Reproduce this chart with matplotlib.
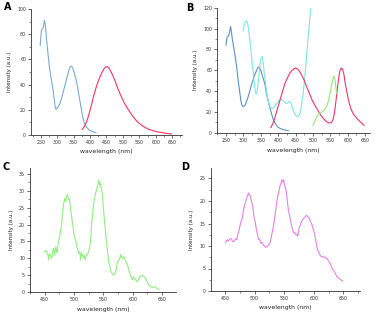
import matplotlib
matplotlib.use("Agg")
import matplotlib.pyplot as plt
from matplotlib.ticker import MultipleLocator

# panel A: excitation (blue) and emission (red)
a_ex_wl = [248, 250, 252, 255, 257, 259, 261, 263, 266, 270, 276, 282, 287, 291, 294, 297,
           302, 307, 312, 317, 322, 327, 332, 336, 340, 344, 347, 351, 355, 359, 362, 367,
           372, 377, 382, 390, 397, 405, 412, 418]
a_ex_int = [71, 78, 83.5, 84, 85, 88, 91, 88, 80, 69, 54, 44, 36, 28, 21.5, 20.5,
            22, 24.5, 28, 33, 38, 43, 48, 52, 54.5, 54.5, 53, 50, 46, 42, 38, 30,
            22.5, 15, 9.5, 6, 4, 3, 2.3, 1.8]
a_em_wl = [376, 382, 388, 395, 403, 410, 418, 426, 434, 441, 447, 452, 456, 461, 468, 476,
           485, 495, 505, 518, 531, 546, 561, 576, 592, 607, 622, 635, 648]
a_em_int = [4.5, 6.5, 9.5, 15, 22.5, 30, 37.5, 43.5, 48.5, 52, 54, 54.3, 53.5, 51.5, 48, 43,
            36.5, 30.5, 25, 19.5, 14.5, 10, 7, 4.8, 3.4, 2.4, 1.8, 1.2, 0.8]

# panel B
b_blue_wl = [250, 252, 254, 257, 259, 261, 263, 265, 268, 272, 276, 281, 285, 289, 293, 296,
             299, 304, 309, 314, 319, 324, 329, 333, 338, 342, 346, 350, 354, 358, 362, 366,
             371, 376, 381, 386, 393, 400, 410, 420, 429]
b_blue_int = [84, 90, 92, 93, 95, 98, 102, 98, 90, 82, 74, 62, 50, 40, 30, 26,
              25, 26, 30, 35, 41, 47, 52, 56, 60, 63, 63, 60, 55, 51, 46, 38,
              31, 24, 18, 12.5, 8, 5, 3.5, 2.5, 2]
b_cyan_wl = [299, 302, 305, 309, 312, 315, 318, 322, 326, 330, 333, 336, 339, 342, 345, 348,
             351, 354, 357, 360, 364, 368, 372, 376, 380, 385, 390, 396, 402, 408, 413, 418,
             423, 428, 432, 436, 440, 445, 450, 455, 459, 463, 467, 472, 477, 482, 487, 491, 494]
b_cyan_int = [98, 103, 106, 107.5, 105, 99, 90, 78, 64, 52, 43, 37, 39, 46, 56, 66,
              72, 73, 67, 57, 46, 36, 29, 25, 23.5, 23.5, 25.5, 28, 31, 32, 31.5, 29.5,
              28, 28.5, 30, 29, 25, 20, 16.5, 15.4, 16, 19, 26, 38, 55, 75, 95, 110, 120]
b_red_wl = [379, 385, 390, 397, 405, 412, 419, 427, 434, 440, 446, 451, 456, 462, 468, 475,
            482, 490, 498, 506, 514, 522, 530, 538, 545, 550, 555, 559, 563, 567, 571, 575,
            578, 581, 585, 589, 593, 598, 603, 609, 616, 623, 631, 639, 647]
b_red_int = [5, 9, 14, 22, 31, 39, 47, 53, 57.5, 60, 61.5, 62, 61, 58.5, 55, 50,
             44, 37.5, 31, 26, 21.5, 17, 13.5, 10.8, 9.5, 9.3, 10.5, 14, 22, 33, 45, 55,
             60, 62, 61, 56, 47, 38, 30, 23, 18, 15, 12, 9.5, 7]
b_green_wl = [500, 505, 510, 515, 520, 525, 530, 535, 540, 545, 549, 553, 557, 560, 562, 564, 566, 568]
b_green_int = [7, 11, 14.5, 17, 19, 20, 21, 23, 26, 31, 38, 45, 51, 54, 53, 49, 43, 38]

# panel C
c_wl = [449, 451, 453, 455, 457, 458, 460, 462, 464, 465, 467, 469, 471, 473, 476, 479,
        480, 482, 484, 486, 487, 489, 490, 492, 494, 497, 500, 503, 505, 508, 510, 511,
        513, 514, 516, 517, 519, 521, 522, 525, 528, 530, 533, 536, 539, 541, 542, 544,
        545, 547, 548, 550, 553, 556, 559, 563, 567, 571, 574, 577, 580, 581, 583, 585,
        587, 591, 595, 599, 601, 603, 606, 608, 612, 616, 620, 624, 628, 631, 634, 638,
        642, 645]
c_int = [11.8, 12.0, 12.3, 11.5, 9.5, 11.2, 11.0, 10.0, 12.5, 13.0, 11.0, 13.4, 11.5, 14.4, 16.9, 20.4,
         22.8, 25.8, 27.8, 26.8, 28.2, 29.0, 27.5, 27.8, 24.8, 20.9, 16.9, 14.9, 13.4, 11.5, 12.0, 9.5,
         11.5, 11.0, 10.2, 11.0, 9.5, 11.0, 11.0, 12.0, 14.9, 20.4, 25.8, 28.8, 30.8, 32.0, 33.2, 31.7,
         32.2, 30.3, 29.3, 24.8, 18.9, 13.4, 9.0, 6.0, 5.0, 6.0, 9.0, 9.5, 11.2, 10.2, 10.0, 10.5,
         9.5, 8.0, 5.5, 3.6, 4.5, 4.1, 3.3, 3.1, 4.5, 5.0, 4.5, 3.1, 1.9, 1.6, 1.3, 1.6,
         0.9, 0.8]

# panel D
d_wl = [451, 454, 456, 458, 461, 463, 466, 468, 470, 472, 474, 477, 479, 481, 483, 485,
        488, 490, 491, 493, 495, 497, 499, 501, 503, 505, 507, 509, 511, 513, 515, 517,
        519, 521, 523, 526, 529, 531, 533, 535, 537, 539, 541, 543, 545, 546, 548, 549,
        551, 553, 555, 557, 560, 563, 566, 568, 570, 572, 573, 575, 577, 579, 581, 584,
        586, 588, 590, 592, 594, 596, 598, 601, 603, 605, 607, 609, 611, 613, 615, 618,
        620, 622, 624, 626, 628, 630, 632, 635, 637, 639, 641, 643, 645, 647, 649]
d_int = [10.8, 11.4, 11.1, 11.6, 11.6, 11.0, 11.1, 11.6, 11.4, 12.6, 13.6, 15.4, 16.0, 17.7, 19.0, 19.9,
         21.2, 21.8, 21.4, 21.0, 19.8, 18.8, 16.5, 15.4, 13.8, 12.5, 11.4, 11.4, 10.6, 10.8, 10.2, 10.0,
         9.7, 9.9, 10.1, 10.6, 12.5, 13.8, 15.4, 17.2, 19.2, 21.0, 22.1, 23.4, 24.0, 24.7, 24.2, 24.7,
         23.4, 22.5, 20.5, 18.0, 16.2, 14.2, 12.9, 13.0, 12.5, 12.6, 12.2, 14.0, 14.5, 15.4, 15.8, 16.3,
         16.6, 16.8, 16.5, 16.3, 15.6, 15.1, 14.2, 12.9, 11.5, 9.9, 9.0, 8.4, 7.9, 7.6, 7.6, 7.6,
         7.3, 7.3, 6.9, 6.5, 6.0, 5.4, 4.8, 4.3, 3.7, 3.2, 3.0, 2.8, 2.5, 2.4, 2.2]

W, H = 375.0, 316.0
fig = plt.figure(figsize=(3.75, 3.16), dpi=100)


def make_ax(left, right, top, bottom, xlim, ylim, xmaj, ymaj, xl_y, yl_x):
    ax = fig.add_axes([left / W, 1 - bottom / H, (right - left) / W, (bottom - top) / H])
    ax.set_xlim(*xlim)
    ax.set_ylim(*ylim)
    for s in ("top", "right"):
        ax.spines[s].set_visible(False)
    for s in ("left", "bottom"):
        ax.spines[s].set_linewidth(0.6)
        ax.spines[s].set_color("#333333")
    ax.xaxis.set_major_locator(MultipleLocator(xmaj))
    ax.xaxis.set_minor_locator(MultipleLocator(xmaj / 2))
    ax.yaxis.set_major_locator(MultipleLocator(ymaj))
    ax.yaxis.set_minor_locator(MultipleLocator(ymaj / 2))
    ax.tick_params(which="major", length=2, width=0.5, pad=1.5, labelsize=3.4,
                   labelcolor="#333333", color="#333333")
    ax.tick_params(which="minor", length=1.2, width=0.4, color="#333333")
    ax.set_xlabel("wavelength (nm)", fontsize=4.4, color="#222222", va="center")
    ax.set_ylabel("Intensity (a.u.)", fontsize=4.0, color="#222222", va="center")
    ax.xaxis.set_label_coords(0.5, xl_y)
    ax.yaxis.set_label_coords(yl_x, 0.5)
    return ax


axA = make_ax(31, 182, 9, 135, (220, 680), (0, 100), 50, 20, -0.13, -0.14)
axA.set_xticks(range(250, 651, 50))
axA.plot(a_ex_wl, a_ex_int, color="#7aaad8", lw=0.8)
axA.plot(a_em_wl, a_em_int, color="#f0345e", lw=0.8)

axB = make_ax(217, 370, 7.7, 132.7, (224, 664), (0, 120), 50, 20, -0.14, -0.14)
axB.set_xticks(range(250, 651, 50))
axB.plot(b_blue_wl, b_blue_int, color="#5d90c8", lw=0.8)
axB.plot(b_cyan_wl, b_cyan_int, color="#7de6de", lw=0.8)
axB.plot(b_red_wl, b_red_int, color="#ee3466", lw=0.8)
axB.plot(b_green_wl, b_green_int, color="#94e878", lw=0.8)

axC = make_ax(30, 175.7, 168.3, 292, (425, 673), (0, 36.7), 50, 5, -0.14, -0.126)
axC.set_xticks(range(450, 651, 50))
axC.plot(c_wl, c_int, color="#92ec80", lw=0.8)

axD = make_ax(210.7, 360, 167.7, 291, (426, 678), (0, 27.4), 50, 5, -0.135, -0.127)
axD.set_xticks(range(450, 651, 50))
axD.plot(d_wl, d_int, color="#e680e6", lw=0.8)

for lab, x, y in (("A", 7.5, 7.5), ("B", 190, 8), ("C", 6, 167), ("D", 185, 167)):
    fig.text(x / W, 1 - y / H, lab, fontsize=7, fontweight="bold", ha="center", va="center")

fig.savefig("out.png", dpi=100)
